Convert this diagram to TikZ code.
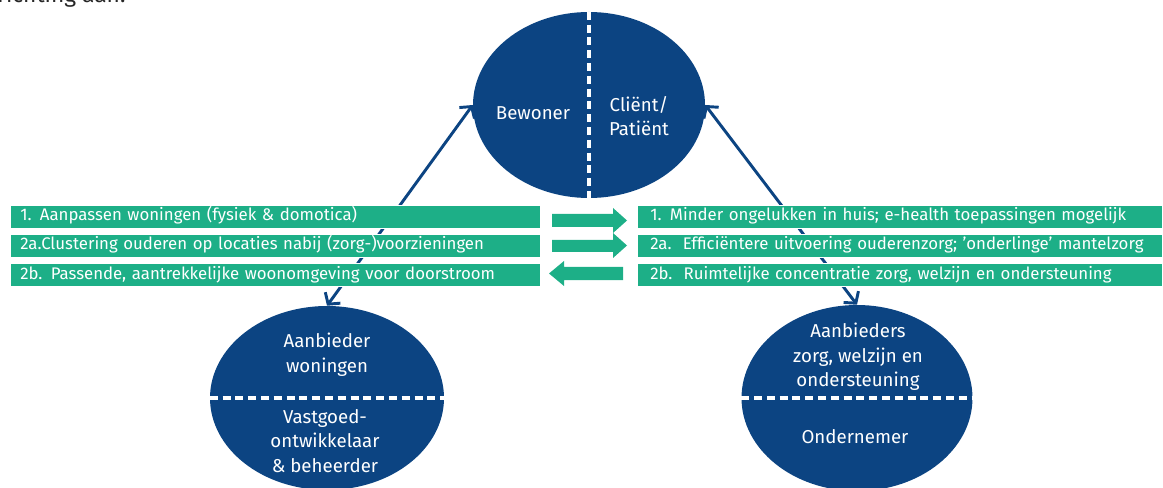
\documentclass[tikz,border=0pt]{standalone}
\usepackage{fontspec}
\setmainfont{Fira Sans}
\usetikzlibrary{shapes.geometric, arrows.meta}
\definecolor{donkerblauw}{RGB}{12,68,130}
\definecolor{groen}{RGB}{29,175,135}

\begin{document}
\begin{tikzpicture}[x=0.75pt, y=-0.75pt,
	ovaal/.style={ellipse, fill=donkerblauw, inner sep=0pt},
	scheiding/.style={white, line width=2.4pt, dash pattern=on 6pt off 3.6pt},
	ovaaltekst/.style={text=white, align=center, font=\fontsize{14}{18.5}\selectfont},
	verbinding/.style={donkerblauw, line width=2.2pt, {Straight Barb[length=6pt, width=14pt]}-{Straight Barb[length=6pt, width=14pt]}},
	balk/.style={rectangle, fill=groen, draw=white, line width=0.4pt, anchor=west, align=left,
		minimum height=17.25pt, inner ysep=0pt, text height=9pt, text depth=2.6pt,
		text=white, font=\fontsize{12.6}{14}\selectfont},
	lbalk/.style={balk, inner xsep=7.5pt, text width=382.5pt},
	rbalk/.style={balk, inner xsep=9.75pt, text width=374.25pt}]
	\useasboundingbox (0,0) rectangle (1163,488);
	% tekst boven
	\node[anchor=base west, inner sep=0pt, text=black!85, font=\fontsize{17}{20}\selectfont] (kop) at (-3,3) {richting aan.};
	% ovalen
	\node[ovaal, minimum width=174pt, minimum height=139.5pt] (bewoner) at (589,105) {};
	\node[ovaal, minimum width=175.5pt, minimum height=138pt] (woningen) at (327,398) {};
	\node[ovaal, minimum width=173.25pt, minimum height=139.5pt] (zorg) at (857,398) {};
	% scheidingslijnen
	\draw[scheiding] (bewoner.north) -- (bewoner.south);
	\draw[scheiding] (woningen.west) -- (woningen.east);
	\draw[scheiding] (zorg.west) -- (zorg.east);
	% tekst in de ovalen
	\node[ovaaltekst] (bew) at (533,113) {Bewoner};
	\node[ovaaltekst] (cli) at (639,116) {Cliënt/\\Patiënt};
	\node[ovaaltekst] (aanb) at (327,355) {Aanbieder\\woningen};
	\node[ovaaltekst] (vast) at (325,441) {Vastgoed-\\ontwikkelaar\\\& beheerder};
	\node[ovaaltekst] (zorgtekst) at (858,357) {Aanbieders\\zorg, welzijn en\\ondersteuning};
	\node[ovaaltekst] (onder) at (855,437) {Ondernemer};
	% verbindingen
	\draw[verbinding] (woningen.north) -- (bewoner.west);
	\draw[verbinding] (zorg.north) -- (bewoner.east);
	% balken links
	\node[lbalk] (l1) at (10,216.5) {1. Aanpassen woningen (fysiek \& domotica)};
	\node[lbalk] (l2) at (10,245.5) {2a.Clustering ouderen op locaties nabij (zorg-)voorzieningen};
	\node[lbalk] (l3) at (10,275) {2b. Passende, aantrekkelijke woonomgeving voor doorstroom};
	% balken rechts
	\node[rbalk] (r1) at (637,216.5) {1. Minder ongelukken in huis; e-health toepassingen mogelijk};
	\node[rbalk] (r2) at (637,245.5) {2a.\ \ Efficiëntere uitvoering ouderenzorg; 'onderlinge' mantelzorg};
	\node[rbalk] (r3) at (637,275) {2b.\ \ Ruimtelijke concentratie zorg, welzijn en ondersteuning};
	% pijlen
	\fill[groen] (552,214) -- ++(61,0) -- ++(0,-6) -- ++(14,12.5) -- ++(-14,12.5) -- ++(0,-6) -- ++(-61,0) -- cycle;
	\fill[groen] (552,240) -- ++(61,0) -- ++(0,-7) -- ++(14,12.5) -- ++(-14,12.5) -- ++(0,-6) -- ++(-61,0) -- cycle;
	\fill[groen] (623,267) -- ++(-59,0) -- ++(0,-6) -- ++(-15,12.5) -- ++(15,12.5) -- ++(0,-6) -- ++(59,0) -- cycle;
\end{tikzpicture}
\end{document}
